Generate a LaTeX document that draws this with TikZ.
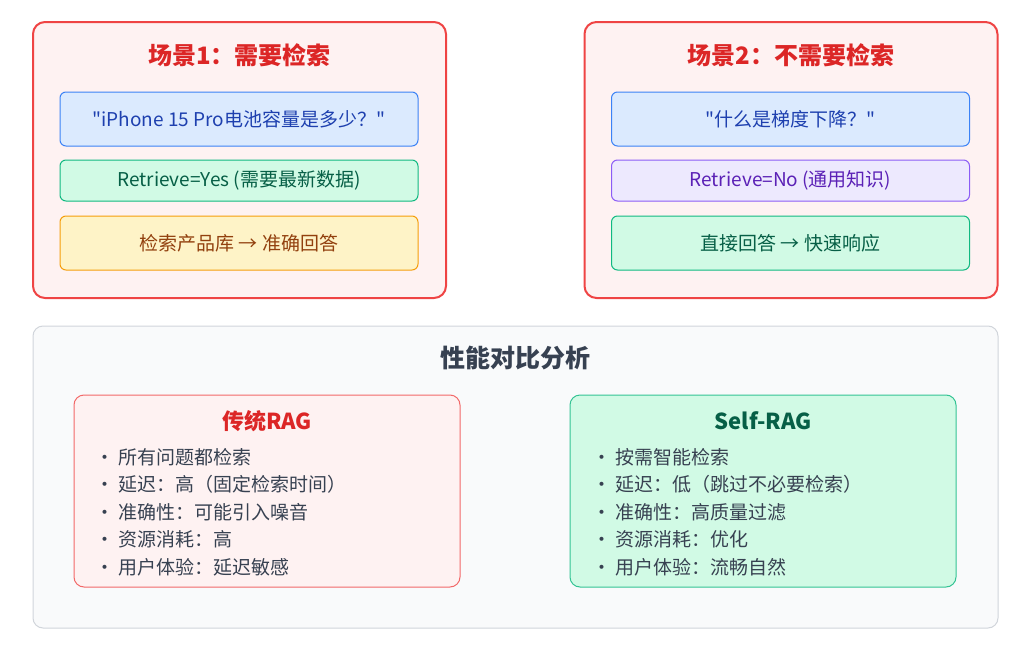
\documentclass[tikz,border=0pt]{standalone}
\usepackage{fontspec}
\setmainfont{Noto Sans CJK SC}[Ligatures=TeXOff]

\definecolor{sceneline}{HTML}{EF4444}
\definecolor{scenebg}{HTML}{FEF2F2}
\definecolor{scenetext}{HTML}{DC2626}
\definecolor{bluebg}{HTML}{DBEAFE}
\definecolor{blueline}{HTML}{3B82F6}
\definecolor{bluetext}{HTML}{1E40AF}
\definecolor{greenbg}{HTML}{D1FAE5}
\definecolor{greenline}{HTML}{10B981}
\definecolor{greentext}{HTML}{065F46}
\definecolor{yellowbg}{HTML}{FEF3C7}
\definecolor{yellowline}{HTML}{F59E0B}
\definecolor{yellowtext}{HTML}{92400E}
\definecolor{purplebg}{HTML}{EDE9FE}
\definecolor{purpleline}{HTML}{8B5CF6}
\definecolor{purpletext}{HTML}{5B21B6}
\definecolor{graybg}{HTML}{F9FAFB}
\definecolor{grayline}{HTML}{D1D5DB}
\definecolor{graytext}{HTML}{374151}

\begin{document}
\begin{tikzpicture}[
        x=1pt,
        y=-1pt,
        every node/.style={font=\fontsize{19}{23}\selectfont},
        scene/.style={
            rectangle,
            draw=sceneline,
            fill=scenebg,
            line width=2pt,
            rounded corners=12pt,
            minimum width=413pt,
            minimum height=276pt
        },
        scenetitle/.style={
            font=\fontsize{24}{29}\selectfont\bfseries,
            text=scenetext
        },
        box/.style={
            rectangle,
            line width=1pt,
            rounded corners=6pt,
            minimum width=358pt,
            inner sep=0pt
        },
        bluebox/.style={box, fill=bluebg, draw=blueline, text=bluetext},
        greenbox/.style={box, fill=greenbg, draw=greenline, text=greentext},
        yellowbox/.style={box, fill=yellowbg, draw=yellowline, text=yellowtext},
        purplebox/.style={box, fill=purplebg, draw=purpleline, text=purpletext},
        panel/.style={
            rectangle,
            line width=1pt,
            rounded corners=10pt,
            minimum width=386pt,
            minimum height=192pt
        },
        paneltitle/.style={font=\fontsize{22}{26}\selectfont\bfseries},
        bullets/.style={
            align=left,
            anchor=west,
            inner sep=0pt,
            text=graytext,
            font=\fontsize{19}{27.5}\selectfont
        }
    ]
    \useasboundingbox (0,0) rectangle (1026,656);

    % Scenario 1
    \node[scene] (s1) at (239.5,160) {};
    \node[scenetitle] (s1title) at (239.5,55) {场景1：需要检索};
    \node[bluebox, minimum height=54pt] (s1q) at (239,119) {"iPhone 15 Pro电池容量是多少？"};
    \node[greenbox, minimum height=41pt] (s1r) at (239,180.5) {Retrieve=Yes (需要最新数据)};
    \node[yellowbox, minimum height=54pt] (s1a) at (239,243) {检索产品库 → 准确回答};

    % Scenario 2
    \node[scene] (s2) at (791,160) {};
    \node[scenetitle] (s2title) at (791,55) {场景2：不需要检索};
    \node[bluebox, minimum height=54pt] (s2q) at (790.5,119) {"什么是梯度下降？"};
    \node[purplebox, minimum height=41pt] (s2r) at (790.5,180.5) {Retrieve=No (通用知识)};
    \node[greenbox, minimum height=54pt] (s2a) at (790.5,243) {直接回答 → 快速响应};

    % Comparison
    \node[rectangle, draw=grayline, fill=graybg, line width=1pt, rounded corners=10pt,
          minimum width=965pt, minimum height=302pt] (cmp) at (515.5,477) {};
    \node[font=\fontsize{25}{30}\selectfont\bfseries, text=graytext] (cmptitle) at (515.5,358) {性能对比分析};

    \node[panel, draw=sceneline!80, fill=scenebg] (rag) at (267,491) {};
    \node[paneltitle, text=scenetext] (ragtitle) at (267,421) {传统RAG};
    \node[bullets] (raglist) at (95,512) {• 所有问题都检索\\• 延迟：高（固定检索时间）\\• 准确性：可能引入噪音\\• 资源消耗：高\\• 用户体验：延迟敏感};

    \node[panel, draw=greenline!85, fill=greenbg] (self) at (763,491) {};
    \node[paneltitle, text=greentext] (selftitle) at (763,421) {Self-RAG};
    \node[bullets] (selflist) at (592,512) {• 按需智能检索\\• 延迟：低（跳过不必要检索）\\• 准确性：高质量过滤\\• 资源消耗：优化\\• 用户体验：流畅自然};
\end{tikzpicture}
\end{document}
